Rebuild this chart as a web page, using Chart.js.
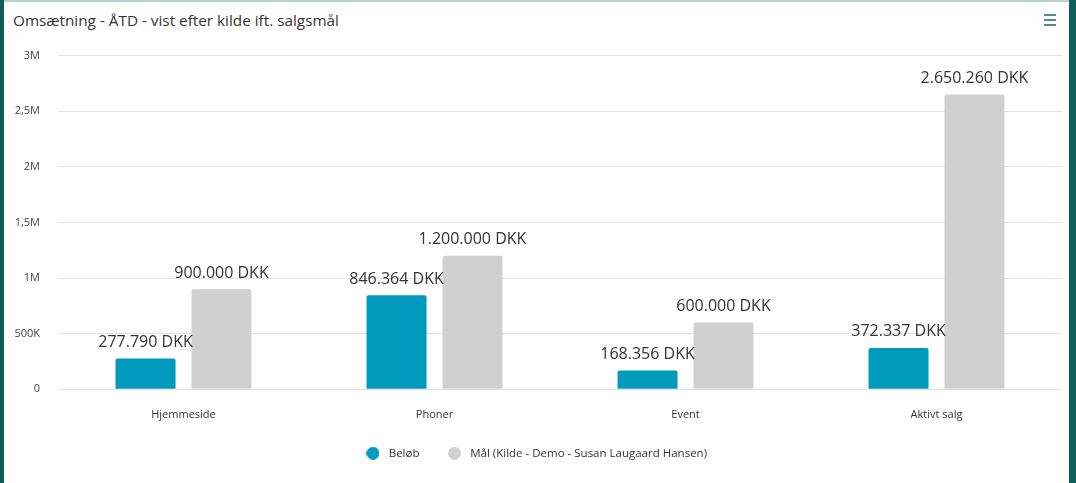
<!DOCTYPE html>
<html>
<head>
<meta charset="utf-8">
<script src="https://cdn.jsdelivr.net/npm/chart.js@4/dist/chart.umd.min.js"></script>
<style>
  html, body { margin: 0; padding: 0; background: #fff; }
  body { width: 1076px; height: 483px; position: relative; overflow: hidden; font-family: "Open Sans", sans-serif; }
  .edge-left { position: absolute; left: 0; top: 0; width: 4px; height: 483px; background: #0f5f58; }
  .edge-right { position: absolute; left: 1069px; top: 0; width: 7px; height: 483px; background: #0f5f58; }
  .edge-top { position: absolute; left: 0; top: 0; width: 1076px; height: 2px; background: #b3d3cd; }
  .title { position: absolute; left: 13px; top: 10px; font-size: 15.3px; color: #333; }
  .menu { position: absolute; left: 1044px; top: 14px; width: 12px; }
  .menu span { display: block; height: 2px; background: #4a9088; margin-bottom: 3px; }
  .wrap { position: absolute; left: 4px; top: 31px; width: 1064px; height: 452px; }
</style>
</head>
<body>
<div class="edge-top"></div>
<div class="edge-left"></div>
<div class="edge-right"></div>
<div class="title">Omsætning - ÅTD - vist efter kilde ift. salgsmål</div>
<div class="menu"><span></span><span></span><span></span></div>
<div class="wrap"><canvas id="salesChart"></canvas></div>
<script>
const categories = ['Hjemmeside', 'Phoner', 'Event', 'Aktivt salg'];
const amountValues = [277790, 846364, 168356, 372337];
const targetValues = [900000, 1200000, 600000, 2650260];
const seriesNames = ['Beløb', 'Mål (Kilde - Demo - Susan Laugaard Hansen)'];
const yTickLabels = ['0', '500K', '1M', '1,5M', '2M', '2,5M', '3M'];

const BLUE = '#009abd';
const GREY = '#d0d0d0';

function formatDkk(v){ return String(v).replace(/\B(?=(\d{3})+(?!\d))/g, '.') + ' DKK'; }

// small round legend marker, drawn as an image so it can sit inside a wider box
function dot(color){
    const c = document.createElement('canvas');
    c.width = 13; c.height = 13;
    const g = c.getContext('2d');
    g.fillStyle = color;
    g.beginPath(); g.arc(6.5, 6.5, 6.5, 0, Math.PI * 2); g.fill();
    return c;
}
const legendDots = [dot(BLUE), dot(GREY)];

// value text above every bar
const barLabels = {
    id: 'barLabels',
    afterDatasetsDraw(chart) {
        const ctx = chart.ctx;
        ctx.save();
        ctx.font = '16px "Open Sans", sans-serif';
        ctx.fillStyle = '#333';
        ctx.textAlign = 'center';
        ctx.textBaseline = 'bottom';
        chart.data.datasets.forEach((ds, i) => {
            chart.getDatasetMeta(i).data.forEach((bar, j) => {
                ctx.fillText(formatDkk(ds.data[j]), bar.x, bar.y - 8);
            });
        });
        ctx.restore();
    }
};

const ctx = document.getElementById('salesChart').getContext('2d');
new Chart(ctx, {
    type: 'bar',
    data: {
        labels: categories,
        datasets: [
            { label: seriesNames[0], data: amountValues, backgroundColor: BLUE, borderRadius: 2, borderSkipped: 'bottom' },
            { label: seriesNames[1], data: targetValues, backgroundColor: GREY, borderRadius: 2, borderSkipped: 'bottom' }
        ]
    },
    options: {
        responsive: true,
        maintainAspectRatio: false,
        animation: false,
        categoryPercentage: 0.605,
        barPercentage: 0.79,
        layout: { padding: { top: 13, left: 4, right: 6, bottom: 14 } },
        scales: {
            x: {
                grid: { display: false, drawTicks: false },
                border: { display: false },
                ticks: { color: '#333', font: { family: '"Open Sans", sans-serif', size: 11 }, padding: 19 },
                afterFit: s => { s.height -= 18; }
            },
            y: {
                min: 0, max: 3000000,
                grid: { color: '#e2e2e2', drawTicks: false, lineWidth: 1 },
                border: { display: false },
                ticks: {
                    stepSize: 500000,
                    color: '#444',
                    font: { family: '"Open Sans", sans-serif', size: 11 },
                    padding: 18,
                    callback: (v, i) => yTickLabels[i]
                },
                afterFit: s => { s.width = 50; }
            }
        },
        plugins: {
            legend: {
                position: 'bottom',
                labels: {
                    usePointStyle: true,
                    boxHeight: 9,
                    pointStyleWidth: 20,
                    padding: 25,
                    color: '#333',
                    font: { family: '"Open Sans", sans-serif', size: 11.5 },
                    generateLabels: chart => Chart.defaults.plugins.legend.labels.generateLabels(chart)
                        .map((item, i) => Object.assign(item, { pointStyle: legendDots[i] }))
                }
            },
            tooltip: { enabled: false }
        }
    },
    plugins: [barLabels]
});
</script>
</body>
</html>
